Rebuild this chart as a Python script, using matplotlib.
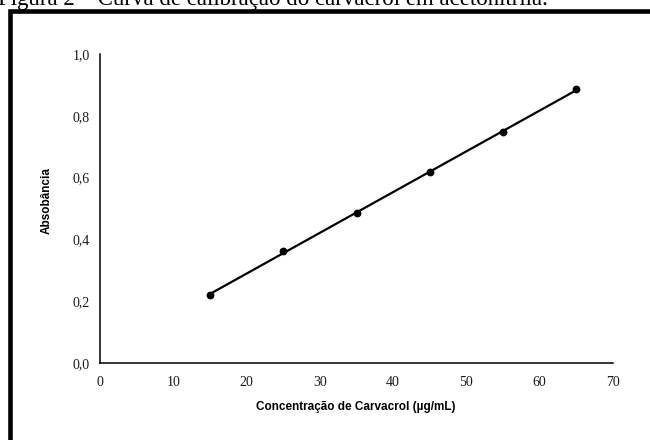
import numpy as np
import matplotlib
matplotlib.use("Agg")
import matplotlib.pyplot as plt
from matplotlib.patches import Rectangle

# Calibration data: carvacrol concentration (µg/mL) vs absorbance
concentracao = [15, 25, 35, 45, 55, 65]
absorbancia = [0.221, 0.362, 0.485, 0.617, 0.747, 0.887]

x_ticks = [0, 10, 20, 30, 40, 50, 60, 70]
y_ticks = [0.0, 0.2, 0.4, 0.6, 0.8, 1.0]
y_tick_labels = ["0,0", "0,2", "0,4", "0,6", "0,8", "1,0"]

caption = "Figura 2 – Curva de calibração do carvacrol em acetonitrila."
x_label = "Concentração de Carvacrol (µg/mL)"
y_label = "Absobância"

W, H, DPI = 650, 440, 100
fig = plt.figure(figsize=(W / DPI, H / DPI), dpi=DPI)
fig.patch.set_facecolor("white")

ax = fig.add_axes([100 / W, 1 - 363 / H, (613 - 100) / W, (363 - 54) / H])

# Linear regression line over the measured range
slope, intercept = np.polyfit(concentracao, absorbancia, 1)
xs = np.array([min(concentracao), max(concentracao)])
ax.plot(xs, slope * xs + intercept, color="black", lw=1.6, solid_capstyle="butt", zorder=2)
ax.plot(concentracao, absorbancia, "o", color="black", ms=4.6, zorder=3)

ax.set_xlim(0, 70)
ax.set_ylim(0, 1.0)
ax.set_xticks(x_ticks)
ax.set_xticklabels([str(v) for v in x_ticks])
ax.set_yticks(y_ticks)
ax.set_yticklabels(y_tick_labels)

serif = ["Liberation Serif", "DejaVu Serif"]
sans = ["Liberation Sans", "DejaVu Sans"]
for lab in ax.get_xticklabels() + ax.get_yticklabels():
    lab.set_family(serif)
    lab.set_fontsize(10)
ax.tick_params(axis="both", length=0, colors="#1a1a1a")
ax.tick_params(axis="x", pad=9)
ax.tick_params(axis="y", pad=7.5)

for side in ("top", "right"):
    ax.spines[side].set_visible(False)
for side in ("left", "bottom"):
    ax.spines[side].set_linewidth(1.1)
    ax.spines[side].set_color("black")

fig.text(356 / W, 1 - 407 / H, x_label, ha="center", va="center",
         family=sans, fontweight="bold", fontsize=8.5)
fig.text(47 / W, 1 - 200 / H, y_label, ha="center", va="center", rotation=90,
         family=sans, fontweight="bold", fontsize=8.5)

# Heavy frame around the figure and caption above it
fig.patches.append(Rectangle((9.5 / W, -0.2), 1.2, 1 - 11 / H + 0.2,
                             transform=fig.transFigure, fill=False,
                             edgecolor="black", lw=3.3))
fig.text(-2 / W, 1 - 5.5 / H, caption, ha="left", va="baseline",
         family=serif, fontsize=16.5, color="black")

fig.savefig("out.png", dpi=DPI, facecolor="white")
